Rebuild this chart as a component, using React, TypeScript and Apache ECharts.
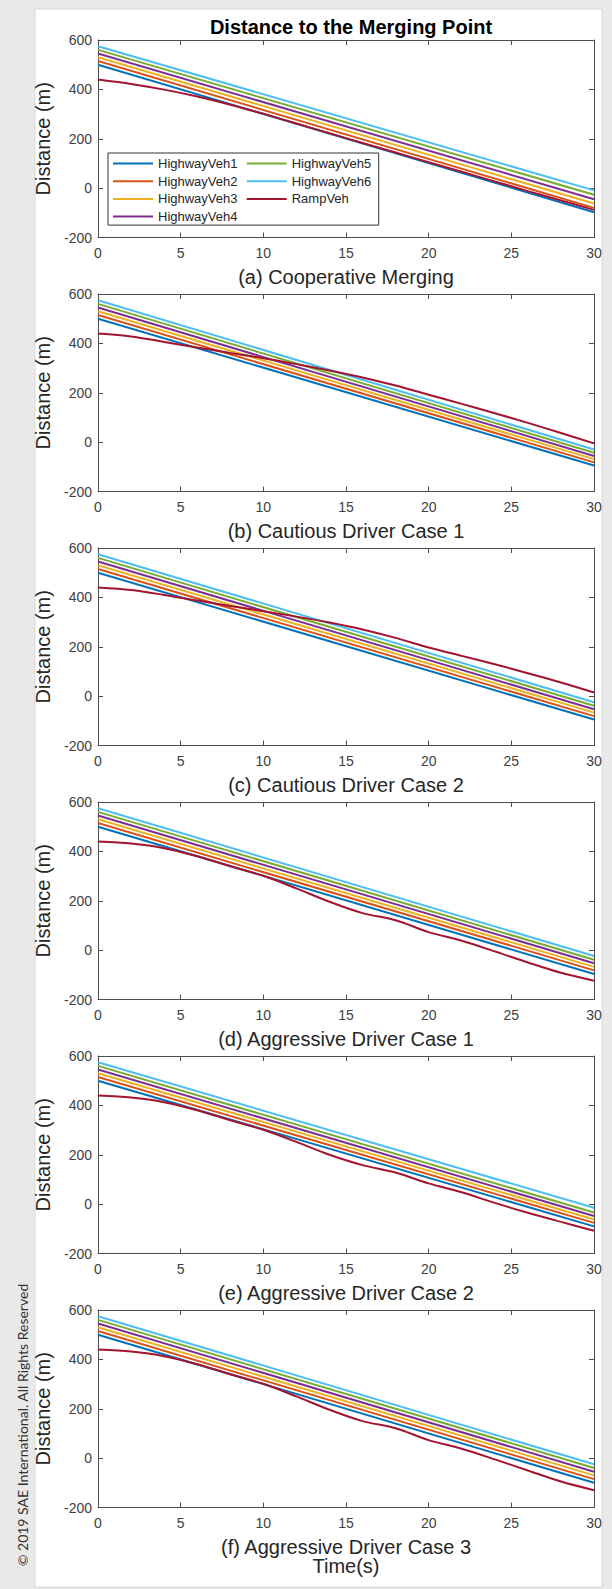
import React, { useEffect, useRef } from "react";
import * as echarts from "echarts";

const SERIES_NAMES = ["HighwayVeh1", "HighwayVeh2", "HighwayVeh3", "HighwayVeh4", "HighwayVeh5", "HighwayVeh6", "RampVeh"];
const COLORS = ["#0072BD", "#D95319", "#EDB120", "#7E2F8E", "#77AC30", "#4DBEEE", "#A2142F"];
const PANEL_TITLES = [
  "(a) Cooperative Merging",
  "(b) Cautious Driver Case 1",
  "(c) Cautious Driver Case 2",
  "(d) Aggressive Driver Case 1",
  "(e) Aggressive Driver Case 2",
  "(f) Aggressive Driver Case 3",
];
const X_LABEL = "Time(s)";
const Y_LABEL = "Distance (m)";
const MAIN_TITLE = "Distance to the Merging Point";
const COPYRIGHT = "\u00A9 2019 SAE International. All Rights Reserved";

// time stamps
const HW_T = [0, 30];
const RAMP_T = [0, 2, 4, 6, 8, 10, 12, 14, 16, 18, 20, 22, 24, 26, 28, 30];

// highway vehicle distances at t = 0 and t = 30 (Veh1..Veh6)
const HW_START = [500, 515, 530, 545, 560, 575];
const HW_END_A = [-98, -80, -62, -45, -27, -9];
const HW_END_B = [-95, -82, -69, -56, -43, -30];
const HW_END_C = [-95, -81, -67, -53, -39, -25];
const HW_END_D = [-97, -82, -68, -53, -39, -24];
const HW_END_E = [-90, -76, -62, -48, -34, -15];
const HW_END_F = [-100, -85, -70, -55, -40, -25];

// ramp vehicle distances at RAMP_T
const RAMP_A = [440, 422, 399, 371, 338, 301, 262, 222, 183, 144, 105, 66, 27, -12, -50, -88];
const RAMP_B = [440, 428, 406, 383, 361, 340, 316, 290, 262, 229, 192, 155, 117, 78, 37, -5];
const RAMP_C = [440, 430, 410, 387, 365, 344, 322, 298, 270, 236, 197, 163, 129, 93, 55, 15];
const RAMP_D = [440, 432, 413, 380, 340, 301, 250, 196, 150, 121, 73, 38, -5, -50, -92, -124];
const RAMP_E = [440, 432, 413, 380, 340, 301, 252, 200, 158, 128, 84, 48, 5, -35, -72, -108];
const RAMP_F = [440, 432, 413, 380, 340, 301, 250, 196, 150, 121, 73, 38, -5, -50, -95, -130];

const HW_ENDS = [HW_END_A, HW_END_B, HW_END_C, HW_END_D, HW_END_E, HW_END_F];
const RAMPS = [RAMP_A, RAMP_B, RAMP_C, RAMP_D, RAMP_E, RAMP_F];

const FONT = "'Liberation Sans', Arial, Helvetica, sans-serif";

export default function App() {
  const ref = useRef<HTMLDivElement>(null);

  useEffect(() => {
    document.body.style.margin = "0";
    if (!ref.current) return;
    const chart = echarts.init(ref.current, undefined, { renderer: "svg" });

    const plotLeft = 98;
    const plotWidth = 496;
    const plotHeight = 197.5;
    const pitch = 254;
    const firstTop = 40;

    const grids: any[] = [];
    const xAxes: any[] = [];
    const yAxes: any[] = [];
    const series: any[] = [];

    const axisLineStyle = { color: "#4d4d4d", width: 1 };
    const labelStyle = { color: "#404040", fontSize: 14, fontFamily: FONT };

    for (let k = 0; k < 6; k++) {
      grids.push({
        left: plotLeft,
        top: firstTop + pitch * k,
        width: plotWidth,
        height: plotHeight,
        show: true,
        backgroundColor: "#ffffff",
        borderWidth: 0,
      });
      const isLast = k === 5;
      xAxes.push({
        type: "value",
        gridIndex: k,
        position: "bottom",
        min: 0,
        max: 30,
        interval: 5,
        axisLine: { show: true, onZero: false, lineStyle: axisLineStyle },
        axisTick: { show: true, inside: true, length: 5, lineStyle: axisLineStyle },
        axisLabel: { show: true, margin: 8, ...labelStyle },
        splitLine: { show: false },
        name: isLast ? PANEL_TITLES[k] + "\n" + X_LABEL : PANEL_TITLES[k],
        nameLocation: "middle",
        nameGap: 30,
        nameTextStyle: { color: "#262626", fontSize: 20, fontFamily: FONT, lineHeight: 19 },
      });
      xAxes.push({
        type: "value",
        gridIndex: k,
        position: "top",
        min: 0,
        max: 30,
        interval: 5,
        axisLine: { show: true, onZero: false, lineStyle: axisLineStyle },
        axisTick: { show: true, inside: true, length: 5, lineStyle: axisLineStyle },
        axisLabel: { show: false },
        splitLine: { show: false },
      });
      yAxes.push({
        type: "value",
        gridIndex: k,
        position: "left",
        min: -200,
        max: 600,
        interval: 200,
        axisLine: { show: true, onZero: false, lineStyle: axisLineStyle },
        axisTick: { show: true, inside: true, length: 5, lineStyle: axisLineStyle },
        axisLabel: { show: true, margin: 6, ...labelStyle },
        splitLine: { show: false },
        name: Y_LABEL,
        nameLocation: "middle",
        nameRotate: 90,
        nameGap: 38,
        nameTextStyle: { color: "#262626", fontSize: 20, fontFamily: FONT },
      });
      yAxes.push({
        type: "value",
        gridIndex: k,
        position: "right",
        min: -200,
        max: 600,
        interval: 200,
        axisLine: { show: true, onZero: false, lineStyle: axisLineStyle },
        axisTick: { show: true, inside: true, length: 5, lineStyle: axisLineStyle },
        axisLabel: { show: false },
        splitLine: { show: false },
      });

      for (let v = 0; v < 6; v++) {
        series.push({
          type: "line",
          name: SERIES_NAMES[v],
          xAxisIndex: 2 * k,
          yAxisIndex: 2 * k,
          data: HW_T.map((t, i) => [t, i === 0 ? HW_START[v] : HW_ENDS[k][v]]),
          symbol: "none",
          lineStyle: { color: COLORS[v], width: 2 },
          itemStyle: { color: COLORS[v] },
          z: 2,
        });
      }
      series.push({
        type: "line",
        name: SERIES_NAMES[6],
        xAxisIndex: 2 * k,
        yAxisIndex: 2 * k,
        data: RAMP_T.map((t, i) => [t, RAMPS[k][i]]),
        symbol: "none",
        smooth: 0.3,
        lineStyle: { color: COLORS[6], width: 2 },
        itemStyle: { color: COLORS[6] },
        z: 3,
      });
    }

    const legendData = ["HighwayVeh1", "HighwayVeh5", "HighwayVeh2", "HighwayVeh6", "HighwayVeh3", "RampVeh", "HighwayVeh4"];

    chart.setOption({
      animation: false,
      backgroundColor: "#e9e9e9",
      title: {
        text: MAIN_TITLE,
        left: 346,
        top: 12,
        textAlign: "center",
        textStyle: { color: "#000000", fontSize: 20, fontWeight: "bold", fontFamily: FONT },
      },
      legend: {
        data: legendData,
        left: 108,
        top: 153,
        width: 272,
        orient: "horizontal",
        padding: [4, 3, 2, 5],
        icon: "rect",
        itemWidth: 40,
        itemHeight: 2,
        itemGap: 4.7,
        backgroundColor: "#ffffff",
        borderColor: "#333333",
        borderWidth: 1,
        borderRadius: 0,
        textStyle: { color: "#262626", fontSize: 13, fontFamily: FONT, width: 84, lineHeight: 13 },
      },
      grid: grids,
      xAxis: xAxes,
      yAxis: yAxes,
      series,
      graphic: [
        {
          type: "rect",
          z: -10,
          silent: true,
          shape: { x: 35, y: 9, width: 567, height: 1578 },
          style: { fill: "#ffffff", stroke: "#d8d8d8", lineWidth: 1 },
        },
        {
          type: "text",
          silent: true,
          x: 22,
          y: 1425,
          rotation: Math.PI / 2,
          style: {
            text: COPYRIGHT,
            fill: "#333333",
            fontSize: 14,
            fontFamily: "Lato, 'Open Sans', sans-serif",
            textAlign: "center",
            textVerticalAlign: "middle",
          },
        },
      ],
    });

    return () => {
      chart.dispose();
    };
  }, []);

  return <div ref={ref} style={{ width: 612, height: 1589 }} />;
}
